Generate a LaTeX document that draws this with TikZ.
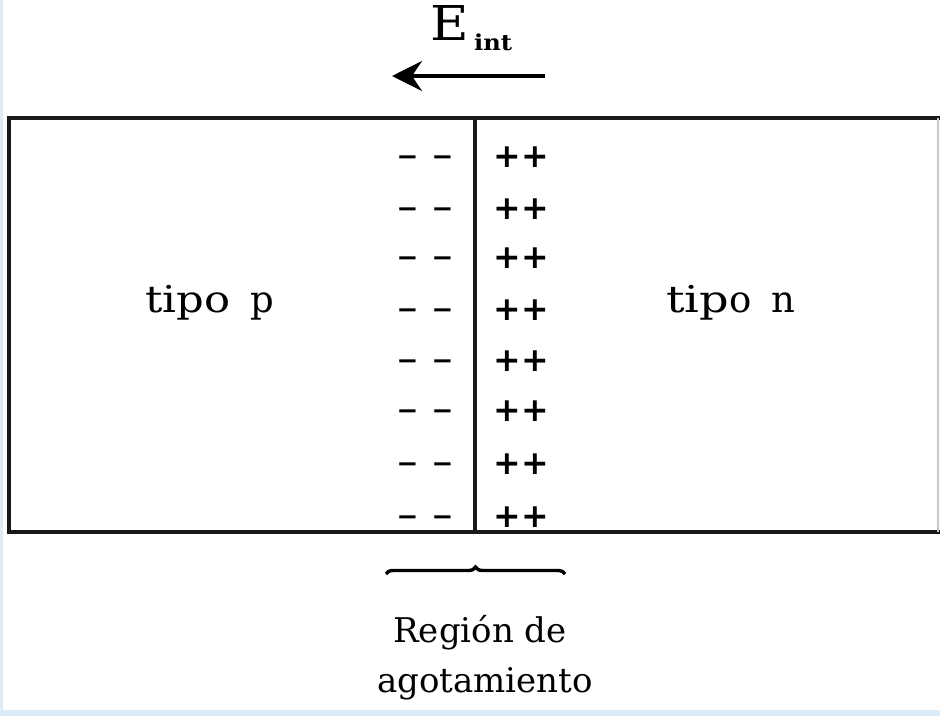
\documentclass[tikz,border=0pt]{standalone}
\usepackage{fontspec}
\setmainfont{DejaVu Serif}
\newfontfamily\chargefont{DejaVu Sans}
\usetikzlibrary{arrows.meta,decorations.pathreplacing}
\definecolor{frameblue}{RGB}{220,235,246}
\definecolor{edgegray}{RGB}{200,200,200}
\tikzset{
  lbl/.style={inner sep=0pt, font=\fontsize{34}{40}\selectfont},
  biglbl/.style={inner sep=0pt, font=\fontsize{37}{40}\selectfont},
  minuscharge/.style={inner sep=0pt, font=\chargefont\bfseries\fontsize{26}{26}\selectfont},
  pluscharge/.style={inner sep=0pt, font=\chargefont\bfseries\fontsize{33}{33}\selectfont},
  wall/.style={line width=3.4pt, black!90},
}
\begin{document}
\begin{tikzpicture}[x=1pt,y=-1pt]
\useasboundingbox (0,0) rectangle (940,716);
\fill[white] (0,0) rectangle (940,716);
% light blue frame (left and bottom)
\fill[frameblue] (0,0) rectangle (3,716);
\fill[frameblue] (0,710) rectangle (940,716);
% box
\coordinate (tl) at (9,118);
\coordinate (tr) at (940,118);
\coordinate (bl) at (9,532);
\coordinate (br) at (940,532);
\draw[wall] (tr) -- (tl) -- (bl) -- (br);
\draw[edgegray, line width=1.2pt] (938,118) -- (938,532);
% junction
\coordinate (jt) at (475,118);
\coordinate (jb) at (475,532);
\draw[wall] (jt) -- (jb);
% charges
\foreach \y [count=\i] in {157,209,258,310,361,411,464,517}{
  \node[minuscharge] (ma\i) at (407.5,\y) {\vphantom{+}−};
  \node[minuscharge] (mb\i) at (442.5,\y) {\vphantom{+}−};
  \node[pluscharge] (pa\i) at (507.5,\y) {+};
  \node[pluscharge] (pb\i) at (535,\y) {+};
}
% labels
\node[biglbl, anchor=base west] (p) at (145,312) {\scalebox{1.17}[1]{tipo}\hspace{20pt}p};
\node[biglbl, anchor=base west] (n) at (666,312) {\scalebox{1.25}[1]{tip}o\hspace{20pt}n};
% field arrow
\coordinate (ea) at (545,76);
\coordinate (eb) at (392,76);
\draw[line width=3.2pt, -{Stealth[length=30pt,width=30pt,inset=10pt]}] (ea) -- (eb);
\node[inner sep=0pt, anchor=base west, font=\fontsize{48}{48}\selectfont] (E) at (430,40) {\scalebox{1.1}[1]{E}};
\node[inner sep=0pt, anchor=base west, font=\bfseries\fontsize{22}{22}\selectfont] (Ei) at (474,50) {\scalebox{1.1}[1]{int}};
% brace
\coordinate (ba) at (386,574);
\coordinate (bb) at (565,574);
\draw[line width=3.4pt, decorate, decoration={brace, mirror, amplitude=7pt, aspect=0.5}] (bb) -- (ba);
\node[lbl, anchor=base] (r1) at (480,642) {Región de};
\node[lbl, anchor=base] (r2) at (485,692) {agotamiento};
\end{tikzpicture}
\end{document}
